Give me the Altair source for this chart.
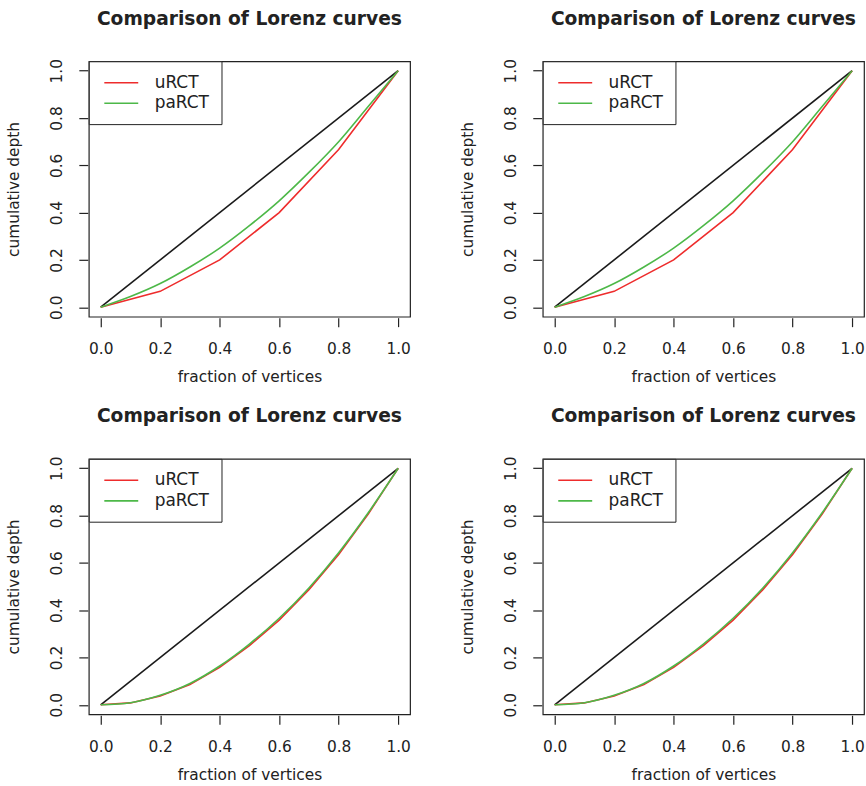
import altair as alt
import pandas as pd

# ---- data ----
x_coarse = [0.0, 0.2, 0.4, 0.6, 0.8, 1.0]
x_fine = [0.0, 0.1, 0.2, 0.3, 0.4, 0.5, 0.6, 0.7, 0.8, 0.9, 1.0]

top_urct = [0.0, 0.067, 0.2, 0.4, 0.667, 1.0]
top_parct = [0.0, 0.045, 0.1, 0.17, 0.25, 0.345, 0.45, 0.57, 0.7, 0.85, 1.0]

bottom_urct = [0.0, 0.008, 0.037, 0.086, 0.158, 0.25, 0.358, 0.487, 0.636, 0.808, 1.0]
bottom_parct = [0.0, 0.009, 0.040, 0.090, 0.164, 0.257, 0.366, 0.494, 0.643, 0.813, 1.0]

diag_x = [0.0, 1.0]
diag_y = [0.0, 1.0]

series_names = ["uRCT", "paRCT"]
series_colors = ["#EE2C2C", "#4DB848"]
tick_values = [0.0, 0.2, 0.4, 0.6, 0.8, 1.0]

panel_title = "Comparison of Lorenz curves"
x_title = "fraction of vertices"
y_title = "cumulative depth"

FONT = "DejaVu Sans"
TXT = "#222222"
W, H = 322, 256


def panel(ux, uy, px, py):
    scale_x = alt.Scale(domain=[-0.04, 1.04], nice=False, zero=False)
    scale_y = alt.Scale(domain=[-0.04, 1.04], nice=False, zero=False)
    ax_x = alt.Axis(values=tick_values, format=".1f", domain=False, grid=False,
                    tickSize=9, tickColor=TXT, tickWidth=1.2, offset=1,
                    labelFont=FONT, labelFontSize=15.4, labelColor=TXT, labelPadding=15,
                    title=x_title, titleFont=FONT, titleFontSize=15.4,
                    titleFontWeight="normal", titleColor=TXT,
                    titleY=64, titleBaseline="alphabetic")
    ax_y = alt.Axis(values=tick_values, format=".1f", domain=False, grid=False,
                    tickSize=9, tickColor=TXT, tickWidth=1.2, offset=1,
                    labelFont=FONT, labelFontSize=15.4, labelColor=TXT, labelPadding=14,
                    labelAngle=270,
                    title=y_title, titleFont=FONT, titleFontSize=15.4,
                    titleFontWeight="normal", titleColor=TXT,
                    titleX=-69, titleAngle=270, titleBaseline="alphabetic")

    diag_df = pd.DataFrame({"x": diag_x, "y": diag_y})
    u_df = pd.DataFrame({"x": ux, "y": uy, "series": series_names[0]})
    p_df = pd.DataFrame({"x": px, "y": py, "series": series_names[1]})

    color = alt.Color("series:N",
                      scale=alt.Scale(domain=series_names, range=series_colors),
                      sort=series_names,
                      legend=alt.Legend(orient="none", legendX=0, legendY=0, title=None,
                                        symbolType="M-0.7,0H3.3", symbolSize=289,
                                        symbolStrokeWidth=1.6,
                                        labelFont=FONT, labelFontSize=17, labelColor=TXT,
                                        labelOffset=35, padding=12, rowPadding=2.6,
                                        strokeColor="#222222", fillColor="white",
                                        cornerRadius=0))

    diag = alt.Chart(diag_df).mark_line(color="#1a1a1a", strokeWidth=1.6).encode(
        x=alt.X("x:Q", scale=scale_x, axis=ax_x),
        y=alt.Y("y:Q", scale=scale_y, axis=ax_y),
    )
    red = alt.Chart(u_df).mark_line(strokeWidth=1.6).encode(
        x=alt.X("x:Q", scale=scale_x, axis=ax_x),
        y=alt.Y("y:Q", scale=scale_y, axis=ax_y),
        color=color,
    )
    green = alt.Chart(p_df).mark_line(strokeWidth=1.6, interpolate="monotone").encode(
        x=alt.X("x:Q", scale=scale_x, axis=ax_x),
        y=alt.Y("y:Q", scale=scale_y, axis=ax_y),
        color=color,
    )
    return alt.layer(diag, red, green).properties(
        width=W, height=H,
        title=alt.TitleParams(panel_title, font=FONT, fontSize=18.7, fontWeight="bold",
                              color=TXT, anchor="middle", frame="group",
                              baseline="alphabetic", offset=15),
    )


p1 = panel(x_coarse, top_urct, x_fine, top_parct)
p2 = panel(x_coarse, top_urct, x_fine, top_parct)
p3 = panel(x_fine, bottom_urct, x_fine, bottom_parct)
p4 = panel(x_fine, bottom_urct, x_fine, bottom_parct)

chart = alt.concat(p1, p2, p3, p4, columns=2, bounds="flush",
                   spacing={"row": 142.5, "column": 133}).resolve_scale(
    color="independent"
).resolve_legend(color="independent").properties(
    background="white",
    padding={"left": 6, "top": 7.5, "right": 1, "bottom": 2},
).configure_view(
    stroke="#222222", strokeWidth=1.2
)

chart.save("out.html", embed_options={"renderer": "svg", "actions": False})
